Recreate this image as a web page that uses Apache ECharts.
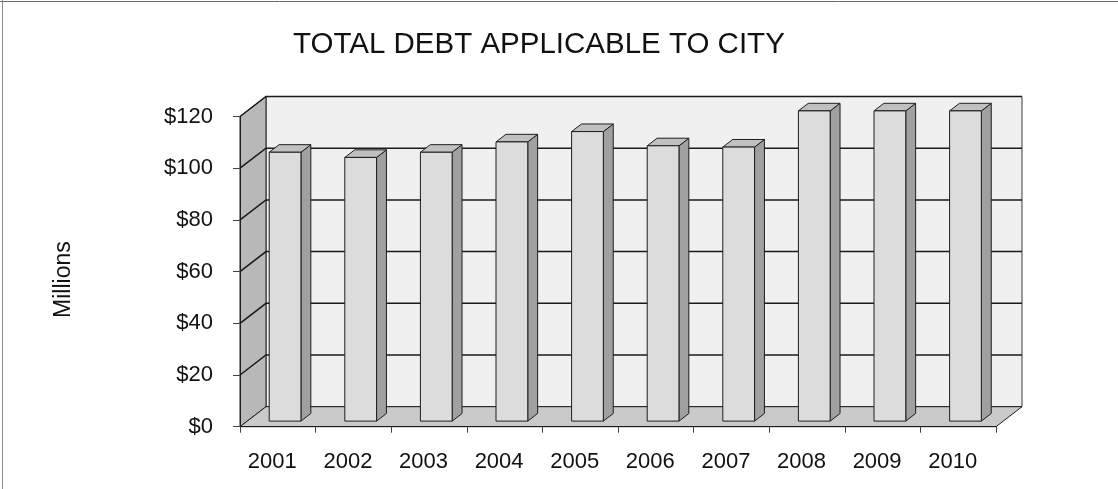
<!DOCTYPE html>
<html>
<head>
<meta charset="utf-8">
<title>Total Debt Applicable to City</title>
<script src="https://cdn.jsdelivr.net/npm/echarts@6/dist/echarts.min.js"></script>
<style>
  html, body { margin: 0; padding: 0; background: #ffffff; }
  #chart { width: 1118px; height: 489px; }
</style>
</head>
<body>
<div id="chart"></div>
<script>
// Fiscal years on the category axis
const years = ['2001', '2002', '2003', '2004', '2005', '2006', '2007', '2008', '2009', '2010'];
// Total debt applicable to the city, in millions of dollars
const debtMillions = [104, 102, 104, 108, 112, 106.5, 106, 120, 120, 120];
// Value-axis ticks (millions)
const valueTicks = [0, 20, 40, 60, 80, 100, 120];

const FONT = '"Liberation Sans", Arial, sans-serif';
// Pixel offset from the front plane of the box to its back wall (3-D look)
const DEPTH_X = 26;
const DEPTH_Y = -20;
// Bars sit between these fractions of the box depth
const BAR_FRONT = 0.28;
const BAR_BACK = 0.66;
const BAR_WIDTH = 0.42; // share of the category band

const chart = echarts.init(document.getElementById('chart'), null, { renderer: 'canvas' });

const edge = { stroke: '#1e1e1e', lineWidth: 1 };

// Walls, floor and gridlines of the 3-D box, derived from the axes
function renderFrame(params, api) {
  const cs = params.coordSys;
  const x0 = cs.x, x1 = cs.x + cs.width;
  const yBot = api.coord([0, valueTicks[0]])[1];
  const yTop = api.coord([0, valueTicks[valueTicks.length - 1]])[1];
  const dx = DEPTH_X, dy = DEPTH_Y;
  const children = [
    { type: 'polygon', shape: { points: [[x0 + dx, yTop + dy], [x1 + dx, yTop + dy], [x1 + dx, yBot + dy], [x0 + dx, yBot + dy]] },
      style: { fill: '#f0f0f0', stroke: '#3a3a3a', lineWidth: 1 } },
    { type: 'polygon', shape: { points: [[x0, yTop], [x0 + dx, yTop + dy], [x0 + dx, yBot + dy], [x0, yBot]] },
      style: Object.assign({ fill: '#b8b8b8' }, edge) },
    { type: 'polygon', shape: { points: [[x0, yBot], [x1, yBot], [x1 + dx, yBot + dy], [x0 + dx, yBot + dy]] },
      style: Object.assign({ fill: '#cacaca' }, edge) }
  ];
  valueTicks.forEach(function (t) {
    if (t === valueTicks[0]) return;
    const y = api.coord([0, t])[1];
    children.push({
      type: 'polyline',
      shape: { points: [[x0, y], [x0 + dx, y + dy], [x1 + dx, y + dy]] },
      style: { stroke: '#1a1a1a', lineWidth: 1.5, fill: null }
    });
  });
  return { type: 'group', children: children };
}

// One 3-D column per year: front, right side and top faces
function renderBar(params, api) {
  const i = api.value(0);
  const v = api.value(1);
  const base = api.coord([i, 0]);
  const top = api.coord([i, v]);
  const band = api.size([1, 0])[0];
  const w = band * BAR_WIDTH;
  const cx = base[0] + BAR_FRONT * DEPTH_X;
  const l = cx - w / 2, r = cx + w / 2;
  const yb = base[1] + BAR_FRONT * DEPTH_Y;
  const yt = top[1] + BAR_FRONT * DEPTH_Y;
  const ddx = (BAR_BACK - BAR_FRONT) * DEPTH_X;
  const ddy = (BAR_BACK - BAR_FRONT) * DEPTH_Y;
  return {
    type: 'group',
    children: [
      { type: 'polygon', shape: { points: [[r, yt], [r + ddx, yt + ddy], [r + ddx, yb + ddy], [r, yb]] },
        style: Object.assign({ fill: '#a0a0a0' }, edge) },
      { type: 'polygon', shape: { points: [[l, yt], [l + ddx, yt + ddy], [r + ddx, yt + ddy], [r, yt]] },
        style: Object.assign({ fill: '#c0c0c0' }, edge) },
      { type: 'polygon', shape: { points: [[l, yt], [r, yt], [r, yb], [l, yb]] },
        style: Object.assign({ fill: '#dcdcdc' }, edge) }
    ]
  };
}

const option = {
  backgroundColor: '#ffffff',
  animation: false,
  title: {
    text: 'TOTAL DEBT APPLICABLE TO CITY',
    left: 293,
    top: 30,
    padding: 0,
    textStyle: { fontFamily: FONT, fontSize: 29.5, fontWeight: 'normal', color: '#111111' }
  },
  graphic: [
    { type: 'line', shape: { x1: 0, y1: 1.5, x2: 1118, y2: 1.5 }, style: { stroke: '#6a6a6a', lineWidth: 1 } },
    { type: 'line', shape: { x1: 2.5, y1: 0, x2: 2.5, y2: 489 }, style: { stroke: '#8a8a8a', lineWidth: 1 } }
  ],
  grid: { left: 240, right: 122, top: 116.5, bottom: 62.3, containLabel: false },
  xAxis: {
    type: 'category',
    data: years,
    boundaryGap: true,
    z: 5,
    axisLine: { show: true, lineStyle: { color: '#1e1e1e', width: 1 } },
    axisTick: { show: true, length: 6, lineStyle: { color: '#444444' } },
    axisLabel: { fontFamily: FONT, fontSize: 22, color: '#111111', margin: 24, padding: [0, 11, 0, 0] },
    splitLine: { show: false }
  },
  yAxis: {
    type: 'value',
    min: valueTicks[0],
    max: valueTicks[valueTicks.length - 1],
    interval: valueTicks[1] - valueTicks[0],
    z: 5,
    name: 'Millions',
    nameLocation: 'middle',
    nameRotate: 90,
    nameGap: 165,
    nameTextStyle: { fontFamily: FONT, fontSize: 23, color: '#111111', padding: [0, 16, 0, 0] },
    axisLine: { show: true, lineStyle: { color: '#1e1e1e', width: 1 } },
    axisTick: { show: true, length: 7, lineStyle: { color: '#444444' } },
    axisLabel: { fontFamily: FONT, fontSize: 22, color: '#111111', margin: 27, formatter: '${value}' },
    splitLine: { show: false }
  },
  series: [
    {
      type: 'custom',
      name: 'frame',
      z: 1,
      silent: true,
      clip: false,
      renderItem: renderFrame,
      data: [[0, 0]],
      encode: { x: 0, y: 1 }
    },
    {
      type: 'custom',
      name: 'Total debt',
      z: 2,
      clip: false,
      renderItem: renderBar,
      data: years.map(function (y, i) { return [i, debtMillions[i]]; }),
      encode: { x: 0, y: 1 }
    }
  ]
};

chart.setOption(option);
</script>
</body>
</html>
